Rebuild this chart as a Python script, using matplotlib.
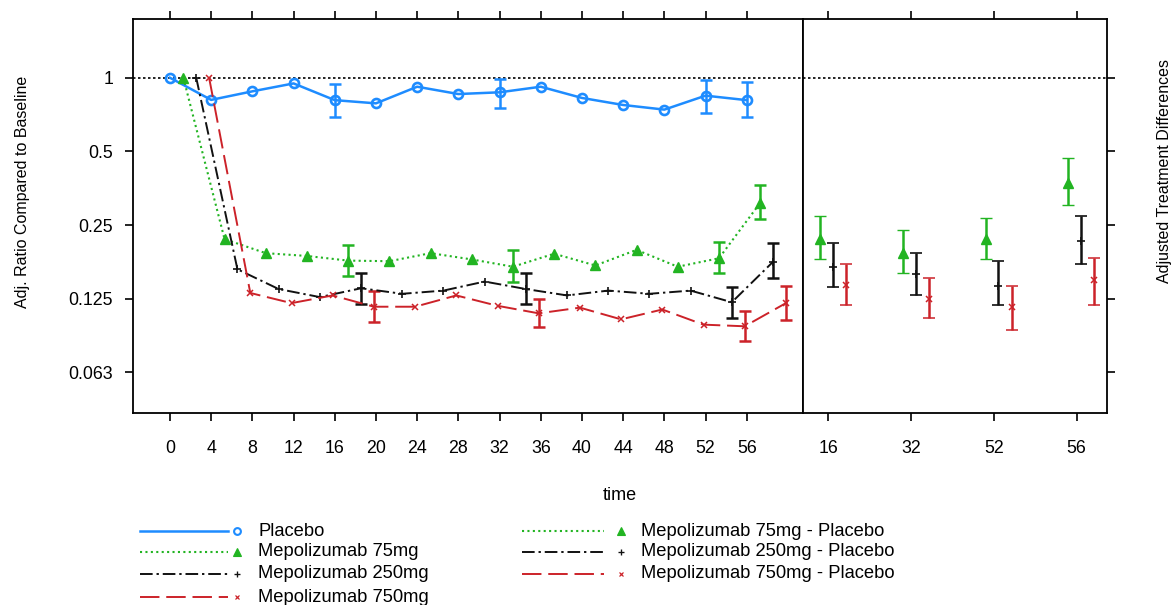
import numpy as np
import matplotlib
matplotlib.use("Agg")
import matplotlib.pyplot as plt
from matplotlib.lines import Line2D
from matplotlib.ticker import FixedLocator, NullLocator

plt.rcParams['font.family'] = ['Liberation Sans', 'DejaVu Sans']

weeks = [0, 4, 8, 12, 16, 20, 24, 28, 32, 36, 40, 44, 48, 52, 56]
placebo = [1.0, 0.812, 0.88, 0.948, 0.81, 0.786, 0.919, 0.858, 0.872, 0.919, 0.827, 0.774, 0.741, 0.845, 0.81]
mepo75 = [1.0, 0.219, 0.192, 0.187, 0.179, 0.178, 0.192, 0.181, 0.169, 0.191, 0.171, 0.198, 0.169, 0.183, 0.308]
mepo250 = [1.0, 0.165, 0.137, 0.127, 0.138, 0.131, 0.135, 0.147, 0.137, 0.129, 0.135, 0.131, 0.135, 0.121, 0.177]
mepo750 = [1.0, 0.132, 0.12, 0.129, 0.116, 0.116, 0.129, 0.117, 0.109, 0.115, 0.103, 0.113, 0.098, 0.0965, 0.12]

# confidence limits at the key weeks
ci_weeks = [16, 32, 52, 56]
placebo_lo = [0.694, 0.753, 0.716, 0.694]
placebo_hi = [0.943, 0.988, 0.979, 0.957]
mepo75_lo = [0.155, 0.147, 0.160, 0.264]
mepo75_hi = [0.207, 0.197, 0.214, 0.366]
mepo250_lo = [0.119, 0.119, 0.104, 0.152]
mepo250_hi = [0.160, 0.160, 0.139, 0.211]
mepo750_lo = [0.100, 0.096, 0.0844, 0.1025]
mepo750_hi = [0.135, 0.125, 0.111, 0.141]

# treatment differences vs placebo
diff_weeks = ['16', '32', '52', '56']
d75 = [0.219, 0.193, 0.219, 0.372]
d75_lo = [0.181, 0.160, 0.181, 0.303]
d75_hi = [0.273, 0.238, 0.268, 0.472]
d250 = [0.168, 0.158, 0.141, 0.215]
d250_lo = [0.140, 0.130, 0.118, 0.174]
d250_hi = [0.211, 0.193, 0.178, 0.273]
d750 = [0.142, 0.1246, 0.116, 0.1485]
d750_lo = [0.118, 0.104, 0.0935, 0.118]
d750_hi = [0.173, 0.152, 0.141, 0.183]

yticks = [1, 0.5, 0.25, 0.125, 0.0625]
ytick_labels = ['1', '0.5', '0.25', '0.125', '0.063']

blue = '#1E8CFF'
green = '#22B422'
black = '#111111'
red = '#CC2229'

styles = [
    dict(name='Placebo', color=blue, ls='-', marker='o', mfc='none', ms=6.5, mew=1.9, lw=1.8),
    dict(name='Mepolizumab 75mg', color=green, ls=(0, (1, 1.6)), marker='^', mfc=green, ms=7, mew=1, lw=1.5),
    dict(name='Mepolizumab 250mg', color=black, ls=(0, (6.5, 2, 1.2, 2)), marker='+', mfc=black, ms=6, mew=1.2, lw=1.4),
    dict(name='Mepolizumab 750mg', color=red, ls=(0, (10, 3.5)), marker='x', mfc=red, ms=4.5, mew=1.1, lw=1.4),
]
series = [placebo, mepo75, mepo250, mepo750]
lows = [placebo_lo, mepo75_lo, mepo250_lo, mepo750_lo]
highs = [placebo_hi, mepo75_hi, mepo250_hi, mepo750_hi]
offsets = [0, 1.3, 2.55, 3.8]

W, H = 1175, 605
fig = plt.figure(figsize=(W / 100, H / 100), dpi=100)
x0, xd, x1 = 133.3, 803, 1107.3
ytop, ybot = 19, 412.7
ax1 = fig.add_axes([x0 / W, 1 - ybot / H, (xd - x0) / W, (ybot - ytop) / H])
ax2 = fig.add_axes([xd / W, 1 - ybot / H, (x1 - xd) / W, (ybot - ytop) / H])

for ax in (ax1, ax2):
    ax.set_yscale('log', base=2)
    ax.set_ylim(0.0428, 1.738)
    ax.yaxis.set_major_locator(FixedLocator(yticks))
    ax.yaxis.set_minor_locator(NullLocator())
    ax.axhline(1, color='black', ls=(0, (1.5, 1.5)), lw=1.2, zorder=1)
    for s in ax.spines.values():
        s.set_linewidth(1.3)
    ax.tick_params(axis='both', which='major', direction='out', length=5.5, width=1.2,
                   labelsize=12.8, top=True)
    ax.tick_params(axis='x', pad=14)
    ax.tick_params(axis='y', pad=9)

# left panel: ratios over time
for st, vals, lo, hi, off in zip(styles, series, lows, highs, offsets):
    xs = np.array(weeks) + off
    ax1.plot(xs, vals, color=st['color'], ls=st['ls'], lw=st['lw'], marker=st['marker'],
             mfc=st['mfc'], mec=st['color'], ms=st['ms'], mew=st['mew'], zorder=3)
    idx = [weeks.index(w) for w in ci_weeks]
    cx = np.array(ci_weeks) + off
    cy = np.array([vals[i] for i in idx])
    ax1.errorbar(cx, cy, yerr=[cy - np.array(lo), np.array(hi) - cy], fmt='none',
                 ecolor=st['color'], elinewidth=1.8, capsize=4.5, capthick=1.8, zorder=2)

ax1.set_xlim(-3.56, 61.46)
ax1.set_xticks(weeks)
ax1.set_xticklabels([str(w) for w in weeks])
ax1.tick_params(axis='y', right=False)
ax1.set_yticklabels(ytick_labels)

# right panel: treatment differences
pos = np.arange(1, len(diff_weeks) + 1)
doffs = [-0.1, 0.055, 0.215]
for st, vals, lo, hi, off in zip(styles[1:], [d75, d250, d750], [d75_lo, d250_lo, d750_lo],
                                 [d75_hi, d250_hi, d750_hi], doffs):
    v = np.array(vals)
    ax2.errorbar(pos + off, v, yerr=[v - np.array(lo), np.array(hi) - v], fmt=st['marker'],
                 color=st['color'], mfc=st['mfc'], mec=st['color'], ms=st['ms'], mew=st['mew'],
                 ecolor=st['color'], elinewidth=1.8, capsize=4.5, capthick=1.8)
ax2.set_xlim(0.694, 4.37)
ax2.set_xticks(pos)
ax2.set_xticklabels(diff_weeks)
ax2.tick_params(axis='y', left=False, right=True, labelleft=False)

fig.text(23 / W, 1 - 192 / H, 'Adj. Ratio Compared to Baseline', rotation=90,
         ha='center', va='center', fontsize=11.5)
fig.text(1165 / W, 1 - 171 / H, 'Adjusted Treatment Differences', rotation=90,
         ha='center', va='center', fontsize=11.5)
fig.text(620 / W, 1 - 495 / H, 'time', ha='center', va='center', fontsize=13)

# legend drawn in pixel space
lg = fig.add_axes([0, 0, 1, 1], zorder=-1)
lg.set_xlim(0, W)
lg.set_ylim(H, 0)
lg.axis('off')
rows = [531, 552, 574, 597]
for st, ry in zip(styles, rows):
    lg.add_line(Line2D([140, 228], [ry, ry], color=st['color'], ls=st['ls'], lw=st['lw']))
    lg.plot([237], [ry], marker=st['marker'], color=st['color'], mfc=st['mfc'],
            ms=st['ms'] * 0.75, mew=st['mew'] * 0.8, ls='none')
    lg.text(258, ry, st['name'], va='center', ha='left', fontsize=13.2)
for st, ry in zip(styles[1:], rows[:3]):
    lg.add_line(Line2D([522, 604], [ry, ry], color=st['color'], ls=st['ls'], lw=st['lw']))
    lg.plot([621], [ry], marker=st['marker'], color=st['color'], mfc=st['mfc'],
            ms=st['ms'] * 0.75, mew=st['mew'] * 0.8, ls='none')
    lg.text(641, ry, st['name'] + ' - Placebo', va='center', ha='left', fontsize=13.2)

fig.savefig('out.png', dpi=100)
